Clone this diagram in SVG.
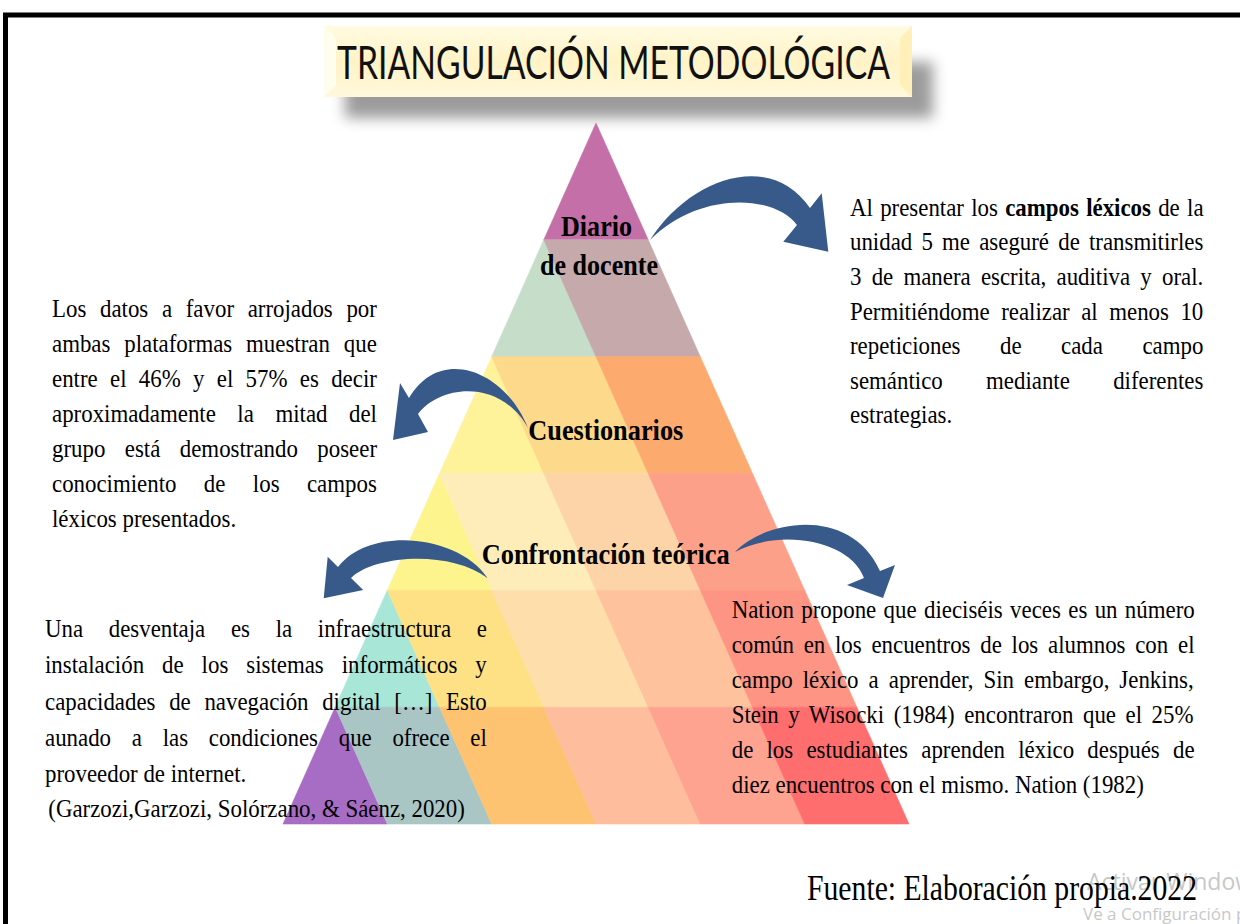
<svg xmlns="http://www.w3.org/2000/svg" width="1240" height="924" viewBox="0 0 1240 924">
<defs>
  <linearGradient id="titleFill" x1="0" y1="0" x2="0" y2="1">
    <stop offset="0" stop-color="#FFFBE2"/>
    <stop offset="0.5" stop-color="#FFF3C6"/>
    <stop offset="1" stop-color="#FFF8DC"/>
  </linearGradient>
  <filter id="shadowBlur" x="-20%" y="-60%" width="140%" height="220%">
    <feGaussianBlur stdDeviation="7"/>
  </filter>
</defs>
<style>
  .body{font-family:"Liberation Serif","Times New Roman",serif;font-size:25px;fill:#000}
  .lbl{font-family:"Liberation Serif","Times New Roman",serif;font-size:30px;font-weight:bold;fill:#000}
  .arrow{fill:#375A8B}
  .cell{stroke-width:0.6;stroke-linejoin:round}
  .wm{font-family:"Open Sans","Liberation Sans",sans-serif;fill:#C8C8C8}
</style>
<rect width="1240" height="924" fill="#FFFFFF"/>
<path d="M5.5,930 V15 H1245" fill="none" stroke="#000000" stroke-width="5"/>

<g id="title">
  <rect x="345" y="62" width="588" height="56" fill="#7A7A7A" opacity="0.75" filter="url(#shadowBlur)"/>
  <rect x="324" y="26" width="588" height="71" fill="url(#titleFill)"/>
  <polygon points="324,26 336,38 336,85 324,97" fill="#FFFDEE"/>
  <polygon points="912,26 900,38 900,85 912,97" fill="#FFF0BA"/>
  <text x="337" y="79" textLength="553" lengthAdjust="spacingAndGlyphs" style="font-family:Lato,'Open Sans','Liberation Sans',sans-serif;font-size:47px;fill:#111111">TRIANGULACIÓN METODOLÓGICA</text>
</g>

<g id="pyramid">
  <polygon class="cell" points="596,123 648.2,239.8 543.8,239.8" fill="#C46FA8" stroke="#C46FA8"/>
  <polygon class="cell" points="543.8,239.8 596,356.7 491.7,356.7" fill="#C5DDC9" stroke="#C5DDC9"/>
  <polygon class="cell" points="543.8,239.8 648.2,239.8 700.3,356.7 596,356.7" fill="#C5A9AB" stroke="#C5A9AB"/>
  <polygon class="cell" points="491.7,356.7 543.8,473.5 439.5,473.5" fill="#FEF29B" stroke="#FEF29B"/>
  <polygon class="cell" points="491.7,356.7 596,356.7 648.2,473.5 543.8,473.5" fill="#FDD98B" stroke="#FDD98B"/>
  <polygon class="cell" points="596,356.7 700.3,356.7 752.5,473.5 648.2,473.5" fill="#FDAA6F" stroke="#FDAA6F"/>
  <polygon class="cell" points="439.5,473.5 491.7,590.3 387.3,590.3" fill="#FEF48E" stroke="#FEF48E"/>
  <polygon class="cell" points="439.5,473.5 543.8,473.5 596,590.3 491.7,590.3" fill="#FEEDB8" stroke="#FEEDB8"/>
  <polygon class="cell" points="543.8,473.5 648.2,473.5 700.3,590.3 596,590.3" fill="#FDD4A8" stroke="#FDD4A8"/>
  <polygon class="cell" points="648.2,473.5 752.5,473.5 804.7,590.3 700.3,590.3" fill="#FDA08A" stroke="#FDA08A"/>
  <polygon class="cell" points="387.3,590.3 439.5,707.2 335.2,707.2" fill="#A8E6D8" stroke="#A8E6D8"/>
  <polygon class="cell" points="387.3,590.3 491.7,590.3 543.8,707.2 439.5,707.2" fill="#FEE184" stroke="#FEE184"/>
  <polygon class="cell" points="491.7,590.3 596,590.3 648.2,707.2 543.8,707.2" fill="#FEDEAB" stroke="#FEDEAB"/>
  <polygon class="cell" points="596,590.3 700.3,590.3 752.5,707.2 648.2,707.2" fill="#FEC39C" stroke="#FEC39C"/>
  <polygon class="cell" points="700.3,590.3 804.7,590.3 856.8,707.2 752.5,707.2" fill="#FE9483" stroke="#FE9483"/>
  <polygon class="cell" points="335.2,707.2 387.3,824 283,824" fill="#A76CC4" stroke="#A76CC4"/>
  <polygon class="cell" points="335.2,707.2 439.5,707.2 491.7,824 387.3,824" fill="#A9C6C5" stroke="#A9C6C5"/>
  <polygon class="cell" points="439.5,707.2 543.8,707.2 596,824 491.7,824" fill="#FEC370" stroke="#FEC370"/>
  <polygon class="cell" points="543.8,707.2 648.2,707.2 700.3,824 596,824" fill="#FEBE9E" stroke="#FEBE9E"/>
  <polygon class="cell" points="648.2,707.2 752.5,707.2 804.7,824 700.3,824" fill="#FEA390" stroke="#FEA390"/>
  <polygon class="cell" points="752.5,707.2 856.8,707.2 909,824 804.7,824" fill="#FF6E6E" stroke="#FF6E6E"/>
</g>

<g id="connectors">
  <path class="arrow" d="M650,240 C690,178 770,150 810,208 L821.7,193.3 L828.3,251.7 L783.3,241.7 L797,225 C775,195 700,190 650,240 Z"/>
  <path class="arrow" d="M528,428 C505,370 440,345 409,398 L400,383 L393,440 L428,432 L418,414 C440,385 500,378 528,428 Z"/>
  <path class="arrow" d="M487.7,578.3 C460,535 370,525 338,567 L327.7,556.7 L323.7,598.3 L363.2,590 L351,578 C375,555 450,550 487.7,578.3 Z"/>
  <path class="arrow" d="M735,552 C765,520 850,505 880,571 L895,565 L883,598 L847,585 L864,578 C850,540 780,528 735,552 Z"/>
</g>

<g id="label-diario">
  <text class="lbl" x="561" y="236" textLength="71" lengthAdjust="spacingAndGlyphs">Diario</text>
  <text class="lbl" x="540" y="275" textLength="118" lengthAdjust="spacingAndGlyphs">de docente</text>
</g>
<g id="label-cuestionarios">
  <text class="lbl" x="528.3" y="440" textLength="155" lengthAdjust="spacingAndGlyphs">Cuestionarios</text>
</g>
<g id="label-confrontacion">
  <text class="lbl" x="481.7" y="564" textLength="248" lengthAdjust="spacingAndGlyphs">Confrontación teórica</text>
</g>

<g id="text-diario" transform="translate(850 0) scale(0.915 1)">
  <text class="body" x="0" y="216" style="word-spacing:1.7px">Al presentar los <tspan font-weight="bold">campos léxicos</tspan> de la</text>
  <text class="body" x="0" y="250.5" style="word-spacing:3.8px">unidad 5 me aseguré de transmitirles</text>
  <text class="body" x="0" y="285" style="word-spacing:4.9px">3 de manera escrita, auditiva y oral.</text>
  <text class="body" x="0" y="319.6" style="word-spacing:6.3px">Permitiéndome realizar al menos 10</text>
  <text class="body" x="0" y="354.2" style="word-spacing:36.9px">repeticiones de cada campo</text>
  <text class="body" x="0" y="388.7" style="word-spacing:41.1px">semántico mediante diferentes</text>
  <text class="body" x="0" y="423.3">estrategias.</text>
</g>

<g id="text-cuestionarios" transform="translate(52 0) scale(0.915 1)">
  <text class="body" x="0" y="317" style="word-spacing:8.7px">Los datos a favor arrojados por</text>
  <text class="body" x="0" y="352" style="word-spacing:8.9px">ambas plataformas muestran que</text>
  <text class="body" x="0" y="387" style="word-spacing:7.2px">entre el 46% y el 57% es decir</text>
  <text class="body" x="0" y="422" style="word-spacing:17.3px">aproximadamente la mitad del</text>
  <text class="body" x="0" y="457" style="word-spacing:15px">grupo está demostrando poseer</text>
  <text class="body" x="0" y="492" style="word-spacing:23.7px">conocimiento de los campos</text>
  <text class="body" x="0" y="527">léxicos presentados.</text>
</g>

<g id="text-confrontacion-left" transform="translate(45 0) scale(0.915 1)">
  <text class="body" x="0" y="637" style="word-spacing:21.8px">Una desventaja es la infraestructura e</text>
  <text class="body" x="0" y="673" style="word-spacing:13.4px">instalación de los sistemas informáticos y</text>
  <text class="body" x="0" y="710" style="word-spacing:8.7px">capacidades de navegación digital […] Esto</text>
  <text class="body" x="0" y="746" style="word-spacing:16.4px">aunado a las condiciones que ofrece el</text>
  <text class="body" x="0" y="782">proveedor de internet.</text>
  <text class="body" x="3.6" y="817">(Garzozi,Garzozi, Solórzano, &amp; Sáenz, 2020)</text>
</g>

<g id="text-confrontacion-right" transform="translate(731.7 0) scale(0.915 1)">
  <text class="body" x="0" y="618" style="word-spacing:1.8px">Nation propone que dieciséis veces es un número</text>
  <text class="body" x="0" y="653" style="word-spacing:4.4px">común en los encuentros de los alumnos con el</text>
  <text class="body" x="0" y="688" style="word-spacing:4.7px">campo léxico a aprender, Sin embargo, Jenkins,</text>
  <text class="body" x="0" y="723" style="word-spacing:4.2px">Stein y Wisocki (1984) encontraron que el 25%</text>
  <text class="body" x="0" y="758" style="word-spacing:8.2px">de los estudiantes aprenden léxico después de</text>
  <text class="body" x="0" y="793">diez encuentros con el mismo. Nation (1982)</text>
</g>

<g id="watermark">
  <text class="wm" x="1087" y="890" style="font-size:23px">Activar Windows</text>
  <text class="wm" x="1083" y="920" style="font-size:17px">Ve a Configuración para activar Windows.</text>
</g>

<g id="footer">
  <text x="807" y="900" textLength="390" lengthAdjust="spacingAndGlyphs" style="font-family:'Liberation Serif','Times New Roman',serif;font-size:36px;fill:#000">Fuente: Elaboración propia.2022</text>
</g>
</svg>
